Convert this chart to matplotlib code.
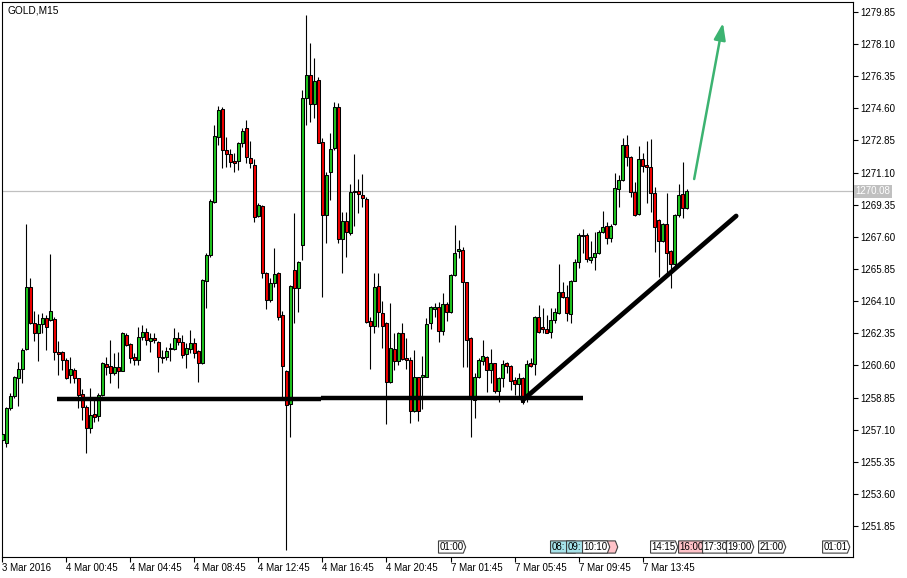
import matplotlib
matplotlib.use('Agg')
import matplotlib.pyplot as plt
import matplotlib.transforms as mtransforms
from matplotlib.patches import Polygon

plt.rcParams['font.family'] = ['Liberation Sans', 'DejaVu Sans']

# GOLD M15, 3 Mar 2016 20:45 .. 7 Mar 2016 16:30 (one entry per bar)
opens = [1256.54, 1256.40, 1258.26, 1258.95, 1259.92, 1260.39, 1261.48, 1264.89, 1262.89, 1262.35,
         1262.86, 1263.17, 1263.08, 1263.11, 1261.31, 1261.31, 1260.90, 1260.08, 1260.35, 1259.90,
         1259.03, 1258.36, 1257.18, 1257.96, 1257.85, 1258.99, 1260.68, 1260.57, 1260.17, 1260.50,
         1260.32, 1262.26, 1261.77, 1261.04, 1260.90, 1262.17, 1262.44, 1261.95, 1262.08, 1261.90,
         1261.08, 1261.08, 1261.48, 1261.48, 1262.08, 1261.90, 1261.22, 1261.48, 1261.84, 1261.41,
         1260.75, 1265.22, 1266.62, 1269.52, 1273.06, 1274.55, 1272.33, 1272.12, 1271.75, 1271.75,
         1272.70, 1273.51, 1271.92, 1271.52, 1268.74, 1269.29, 1265.62, 1264.17, 1265.07, 1265.62,
         1263.35, 1260.32, 1258.48, 1265.80, 1264.80, 1267.16, 1275.15, 1276.40, 1274.82, 1276.15,
         1272.79, 1268.79, 1271.15, 1272.43, 1274.66, 1267.47, 1268.49, 1267.83, 1270.03, 1270.10,
         1269.88, 1269.67, 1263.02, 1262.75, 1264.93, 1263.48, 1262.93, 1259.68, 1261.50, 1260.86,
         1262.35, 1261.01, 1260.90, 1258.14, 1259.95, 1259.99, 1259.99, 1262.89, 1263.69, 1263.77,
         1262.50, 1263.93, 1263.53, 1265.53, 1266.85, 1266.89, 1265.13, 1262.08, 1258.72, 1259.99,
         1260.86, 1261.08, 1260.35, 1260.72, 1259.23, 1259.90, 1260.72, 1260.59, 1259.81, 1259.59,
         1259.90, 1258.90, 1260.72, 1260.68, 1263.26, 1262.71, 1262.57, 1262.44, 1263.08, 1263.44,
         1264.58, 1264.31, 1263.40, 1265.22, 1266.25, 1267.71, 1267.71, 1266.34, 1266.49, 1266.71,
         1267.89, 1268.20, 1267.52, 1268.30, 1270.19, 1270.70, 1272.61, 1271.93, 1270.07, 1268.85,
         1271.83, 1271.52, 1271.39, 1270.01, 1268.52, 1267.40, 1268.30, 1266.83, 1266.13, 1268.79,
         1269.94, 1269.16]
highs = [1256.99, 1258.35, 1259.08, 1260.02, 1260.81, 1261.53, 1268.30, 1265.38, 1263.57, 1263.40,
         1263.44, 1263.35, 1266.67, 1263.22, 1261.95, 1261.40, 1260.99, 1261.08, 1260.44, 1259.93,
         1259.30, 1258.45, 1259.36, 1258.81, 1259.08, 1260.81, 1261.08, 1261.99, 1261.26, 1261.35,
         1262.44, 1262.38, 1261.81, 1261.26, 1262.71, 1262.80, 1262.62, 1262.35, 1262.35, 1261.93,
         1261.44, 1261.62, 1261.81, 1262.62, 1262.44, 1262.26, 1261.81, 1262.53, 1262.08, 1261.44,
         1265.29, 1266.70, 1269.65, 1273.70, 1274.70, 1274.66, 1273.06, 1272.37, 1272.15, 1272.79,
         1273.51, 1273.97, 1272.82, 1271.83, 1269.43, 1269.32, 1265.71, 1265.35, 1266.98, 1265.71,
         1263.57, 1260.35, 1264.98, 1268.89, 1266.31, 1275.60, 1279.69, 1278.14, 1277.33, 1276.33,
         1272.97, 1271.15, 1273.24, 1274.97, 1274.88, 1268.98, 1268.98, 1270.48, 1272.12, 1270.74,
         1271.03, 1269.76, 1263.26, 1265.62, 1265.62, 1264.11, 1262.98, 1264.02, 1262.35, 1262.44,
         1262.93, 1262.08, 1261.04, 1261.44, 1259.99, 1261.12, 1263.17, 1263.84, 1264.02, 1264.07,
         1264.53, 1264.07, 1265.58, 1268.25, 1267.43, 1267.07, 1265.16, 1262.13, 1260.21, 1260.99,
         1261.99, 1261.12, 1261.48, 1260.75, 1259.99, 1260.90, 1260.81, 1260.63, 1259.99, 1260.17,
         1259.99, 1260.90, 1260.99, 1263.29, 1263.89, 1263.71, 1263.35, 1263.71, 1263.71, 1266.13,
         1265.16, 1264.98, 1265.25, 1266.38, 1267.80, 1268.01, 1267.80, 1267.40, 1267.89, 1267.98,
         1269.03, 1268.43, 1268.30, 1271.10, 1270.97, 1272.97, 1273.15, 1272.01, 1270.61, 1272.55,
         1272.15, 1272.84, 1272.92, 1270.34, 1268.56, 1268.38, 1269.97, 1266.89, 1268.85, 1270.48,
         1271.66, 1270.19]
lows = [1256.45, 1256.18, 1258.17, 1258.81, 1258.39, 1259.66, 1261.45, 1262.86, 1261.95, 1260.86,
        1262.35, 1261.44, 1263.04, 1260.90, 1260.08, 1260.35, 1259.84, 1259.66, 1259.66, 1258.26,
        1257.63, 1255.81, 1256.94, 1257.54, 1257.59, 1258.94, 1260.08, 1259.63, 1260.08, 1259.39,
        1260.28, 1261.68, 1260.75, 1260.62, 1260.62, 1261.99, 1261.71, 1261.35, 1261.81, 1260.26,
        1260.72, 1260.90, 1260.86, 1261.44, 1261.71, 1260.99, 1260.44, 1261.26, 1260.99, 1259.72,
        1260.68, 1263.71, 1266.52, 1269.47, 1272.61, 1271.34, 1271.39, 1271.39, 1271.15, 1271.25,
        1272.52, 1271.61, 1271.34, 1268.40, 1268.70, 1265.35, 1263.66, 1264.08, 1264.89, 1263.08,
        1258.90, 1250.55, 1256.72, 1262.89, 1263.53, 1266.34, 1273.70, 1273.88, 1274.06, 1272.70,
        1264.35, 1267.25, 1269.61, 1272.34, 1267.25, 1265.65, 1266.49, 1267.71, 1268.19, 1268.92,
        1269.21, 1262.89, 1260.39, 1262.39, 1262.71, 1261.57, 1257.39, 1259.63, 1260.35, 1260.63,
        1260.90, 1260.39, 1257.48, 1258.08, 1257.59, 1258.21, 1259.95, 1262.57, 1263.26, 1261.89,
        1262.26, 1263.04, 1263.48, 1265.47, 1266.43, 1260.50, 1260.50, 1256.72, 1257.72, 1259.90,
        1260.63, 1259.17, 1259.63, 1259.08, 1258.63, 1259.44, 1260.17, 1259.26, 1258.99, 1258.90,
        1258.50, 1258.63, 1260.53, 1260.08, 1262.35, 1262.35, 1262.35, 1262.08, 1262.89, 1263.40,
        1264.26, 1263.04, 1262.89, 1265.18, 1265.89, 1266.71, 1266.25, 1266.20, 1265.80, 1266.67,
        1267.80, 1267.21, 1267.34, 1268.25, 1269.25, 1270.66, 1271.46, 1269.76, 1268.74, 1268.80,
        1271.15, 1269.47, 1268.98, 1266.80, 1265.40, 1267.34, 1265.65, 1264.80, 1265.98, 1268.70,
        1268.61, 1269.10]
closes = [1256.87, 1258.26, 1258.95, 1259.95, 1260.39, 1261.44, 1264.89, 1262.89, 1262.35, 1262.86,
          1263.17, 1262.71, 1263.58, 1261.31, 1261.21, 1260.90, 1259.90, 1260.39, 1259.90, 1258.99,
          1258.32, 1257.18, 1257.90, 1257.81, 1258.99, 1260.72, 1260.53, 1260.17, 1260.50, 1260.32,
          1262.35, 1261.71, 1260.99, 1260.90, 1262.17, 1262.44, 1261.99, 1262.08, 1261.99, 1261.08,
          1260.99, 1261.41, 1261.55, 1262.08, 1261.90, 1261.17, 1261.53, 1261.84, 1261.26, 1260.75,
          1265.26, 1266.62, 1269.58, 1273.10, 1274.51, 1272.33, 1272.12, 1271.66, 1271.64, 1272.70,
          1273.39, 1271.94, 1271.61, 1268.70, 1269.34, 1265.62, 1264.17, 1265.07, 1265.56, 1263.26,
          1260.57, 1258.45, 1264.93, 1264.80, 1266.22, 1275.15, 1276.40, 1274.82, 1276.09, 1272.73,
          1268.79, 1270.97, 1272.37, 1274.66, 1267.47, 1268.49, 1267.85, 1270.07, 1270.10, 1269.94,
          1269.70, 1262.95, 1262.77, 1264.85, 1263.49, 1262.77, 1259.68, 1261.53, 1260.86, 1262.39,
          1260.93, 1260.90, 1258.14, 1259.95, 1258.14, 1260.08, 1262.86, 1263.77, 1263.77, 1262.50,
          1263.93, 1263.53, 1265.53, 1266.74, 1266.92, 1265.13, 1261.99, 1258.90, 1259.99, 1260.90,
          1261.11, 1260.35, 1260.72, 1259.23, 1259.90, 1260.66, 1260.59, 1259.77, 1259.59, 1259.90,
          1258.63, 1260.68, 1260.59, 1263.22, 1262.44, 1262.57, 1262.39, 1263.08, 1263.49, 1264.62,
          1264.31, 1263.44, 1265.22, 1266.25, 1267.71, 1267.65, 1266.38, 1266.49, 1266.71, 1267.89,
          1268.16, 1267.52, 1268.20, 1270.25, 1270.70, 1272.61, 1271.93, 1270.07, 1268.79, 1271.83,
          1271.48, 1271.39, 1270.01, 1268.12, 1267.40, 1268.30, 1266.74, 1266.13, 1268.79, 1269.88,
          1269.16, 1270.08]

last_price = 1270.08

price_ticks = [1279.85, 1278.10, 1276.35, 1274.60, 1272.85, 1271.10, 1269.35, 1267.60, 1265.85,
               1264.10, 1262.35, 1260.60, 1258.85, 1257.10, 1255.35, 1253.60, 1251.85]
time_tick_bars = [0, 16, 32, 48, 64, 80, 96, 112, 128, 144, 160]
time_tick_labels = ['3 Mar 2016', '4 Mar 00:45', '4 Mar 04:45', '4 Mar 08:45', '4 Mar 12:45',
                    '4 Mar 16:45', '4 Mar 20:45', '7 Mar 01:45', '7 Mar 05:45', '7 Mar 09:45',
                    '7 Mar 13:45']

# economic calendar markers along the bottom (bar index, visible label, kind)
event_bars = [109, 137, 141, 147, 145, 162, 169, 175, 181, 189, 205]
event_labels = ['01:00', '08:', '09:', '', '10:10', '14:15', '16:00', '17:30', '19:00', '21:00', '01:01']
event_kinds = ['none', 'low', 'low', 'high', 'none', 'none', 'high', 'none', 'none', 'none', 'none']

# hand drawn objects
support_a = ([13.6, 79.6], [1258.80, 1258.80])
support_b = ([79.6, 145.1], [1258.85, 1258.85])
trend = ([130.1, 183.4], [1258.72, 1268.74])
arrow_from = (172.9, 1270.75)
arrow_to = (180.1, 1279.25)

fig = plt.figure(figsize=(9.07, 5.78), dpi=100)
ax = fig.add_axes([2 / 907, 21 / 578, 851 / 907, 555 / 578])

ax.axhline(last_price, color='#c0c0c0', lw=0.9, zorder=1)

bull = '#1ec31e'
bear = '#f00000'
for i, (o, h, l, c) in enumerate(zip(opens, highs, lows, closes)):
    ax.vlines(i, l, h, color='black', lw=0.8, zorder=2)
    lo, hi = min(o, c), max(o, c)
    if hi - lo < 0.06:
        hi = lo + 0.06
    ax.bar(i, hi - lo, bottom=lo, width=0.55, color=bull if c >= o else bear,
           edgecolor='black', linewidth=0.75, zorder=3)

ax.plot(*support_a, color='black', lw=3.2, solid_capstyle='butt', zorder=5)
ax.plot(*support_b, color='black', lw=3.2, solid_capstyle='butt', zorder=5)
ax.plot(*trend, color='black', lw=3.4, solid_capstyle='round', zorder=5)
ax.annotate('', xy=arrow_to, xytext=arrow_from,
            arrowprops=dict(arrowstyle='-|>,head_length=1.0,head_width=0.35',
                            color='#3cb371', lw=1.8, shrinkA=0, shrinkB=0), zorder=6)

ax.set_xlim(-0.1, 212.6)
ax.set_ylim(1250.17, 1280.39)

ax.yaxis.tick_right()
ax.set_yticks(price_ticks)
ax.set_yticklabels(['%.2f' % p for p in price_ticks])
ax.tick_params(axis='y', direction='out', length=3.5, width=0.8, labelsize=7, pad=1.5)

ax.set_xticks(time_tick_bars)
ax.set_xticklabels(time_tick_labels, ha='left')
ax.tick_params(axis='x', direction='out', length=3.5, width=0.8, labelsize=7, pad=0.8)

for s in ax.spines.values():
    s.set_linewidth(0.8)
    s.set_color('black')

ax.text(0.006, 0.994, 'GOLD,M15', transform=ax.transAxes, fontsize=7.3, va='top', ha='left')

trans = mtransforms.blended_transform_factory(ax.transAxes, ax.transData)
ax.text(1.003, last_price, '%.2f' % last_price, transform=trans, color='white', fontsize=7,
        va='center', ha='left', clip_on=False, zorder=10,
        bbox=dict(boxstyle='square,pad=0.15', fc='#c0c0c0', ec='none'))

# calendar boxes: x in bars, y in axes fraction
etrans = mtransforms.blended_transform_factory(ax.transData, ax.transAxes)
fills = {'none': 'white', 'low': '#a6e3ea', 'high': '#ffc2c8'}
box_w, tip, y0, y1 = 6.2, 0.6, 0.007, 0.029
for k, (b, lab, kind) in enumerate(zip(event_bars, event_labels, event_kinds)):
    z = 20 + 2 * k if lab else 15
    pts = [(b, y0), (b + box_w, y0), (b + box_w + tip, (y0 + y1) / 2), (b + box_w, y1), (b, y1)]
    box = Polygon(pts, closed=True, transform=etrans, fc=fills[kind], ec='#404040',
                  lw=0.8, zorder=z)
    ax.add_patch(box)
    if lab:
        t = ax.text(b + 0.3, (y0 + y1) / 2, lab, transform=etrans, fontsize=7, va='center',
                    ha='left', zorder=z + 1)
        t.set_clip_path(box)

fig.savefig('out.png', dpi=100)
